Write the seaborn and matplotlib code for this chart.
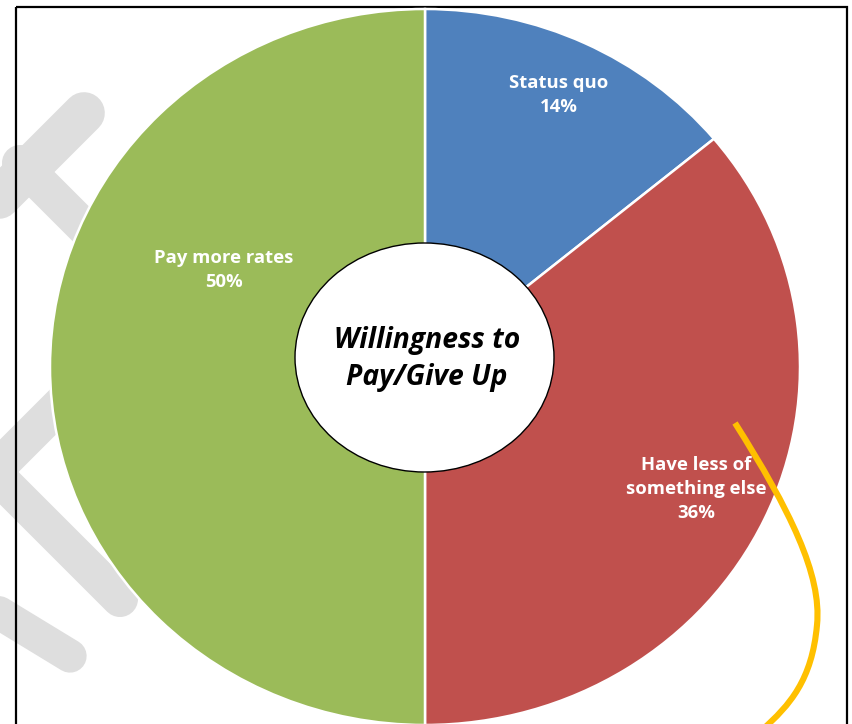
import numpy as np
import matplotlib
matplotlib.use("Agg")
import matplotlib.pyplot as plt
from matplotlib.patches import Ellipse, Rectangle, PathPatch
from matplotlib.path import Path
import seaborn as sns

# Survey shares
categories = ["Status quo", "Have less of\nsomething else", "Pay more rates"]
shares = [14, 36, 50]
slice_colors = ["#4F81BD", "#C0504D", "#9BBB59"]
center_title = "Willingness to\nPay/Give Up"

sns.set_theme(style="white")
plt.rcParams["font.family"] = ["Open Sans", "DejaVu Sans"]

W, H = 852, 724
fig = plt.figure(figsize=(W / 100, H / 100), dpi=100)
fig.patch.set_facecolor("white")

# Pixel-space layers: background (watermark + frame) and foreground (hub + ribbon)
bg = fig.add_axes([0, 0, 1, 1], zorder=0)
fg = fig.add_axes([0, 0, 1, 1], zorder=2)
for a in (bg, fg):
    a.set_xlim(0, W)
    a.set_ylim(H, 0)
    a.axis("off")
    a.patch.set_alpha(0)

# Faint grey watermark strokes behind the pie
wm = dict(color="#DEDEDE", solid_capstyle="round", lw=30)
bg.plot([-60, 84], [257, 113], **wm)
bg.plot([20, 110], [163, 253], **dict(wm, lw=26))
bg.plot([80, -7, 120], [385, 472, 599], solid_joinstyle="miter", **dict(wm, lw=26))
bg.plot([-40, 70], [589, 656], **dict(wm, lw=24))

# Outer frame
bg.add_patch(Rectangle((16, 7), 831, 740, fill=False, ec="black", lw=1.6, zorder=5))

# Pie axes stretched to the slightly wide ellipse
ax = fig.add_axes([50 / W, -1 / H, 750 / W, 716 / H], zorder=1)
palette = sns.color_palette(slice_colors)
wedges, _ = ax.pie(
    shares,
    colors=palette,
    startangle=90,
    counterclock=False,
    radius=1.0,
    wedgeprops=dict(edgecolor="white", linewidth=1.8),
)
ax.set_aspect("auto")
ax.set_xlim(-1, 1)
ax.set_ylim(-1, 1)
ax.axis("off")

# Slice labels: mid-angle for the small slices, best-fit spot for the half
label_radius = [0.84, 0.80, 0.60]
angle_override = [None, None, 153.2]
for w, cat, val, r, ang in zip(wedges, categories, shares, label_radius, angle_override):
    theta = np.deg2rad(ang if ang is not None else (w.theta1 + w.theta2) / 2)
    ax.text(r * np.cos(theta), r * np.sin(theta), f"{cat}\n{val}%",
            ha="center", va="center", color="white", fontsize=13.3,
            fontweight="bold", linespacing=1.42)

# Central hub with the chart title
fg.add_patch(Ellipse((424.5, 357.5), 259, 229, fc="white", ec="black", lw=1.0))
fg.text(427, 359, center_title, ha="center", va="center", fontsize=20.3,
        fontweight="bold", fontstyle="italic", color="black", linespacing=1.36)

# Hand-drawn highlight ribbon
ribbon = Path(
    [(735, 423), (790, 510), (822, 575), (817, 625),
     (812, 680), (790, 705), (762, 730)],
    [Path.MOVETO, Path.CURVE4, Path.CURVE4, Path.CURVE4,
     Path.CURVE4, Path.CURVE4, Path.CURVE4],
)
fg.add_patch(PathPatch(ribbon, fill=False, ec="#FFC000", lw=4.4, capstyle="butt"))

fig.savefig("out.png", dpi=100, facecolor="white")
